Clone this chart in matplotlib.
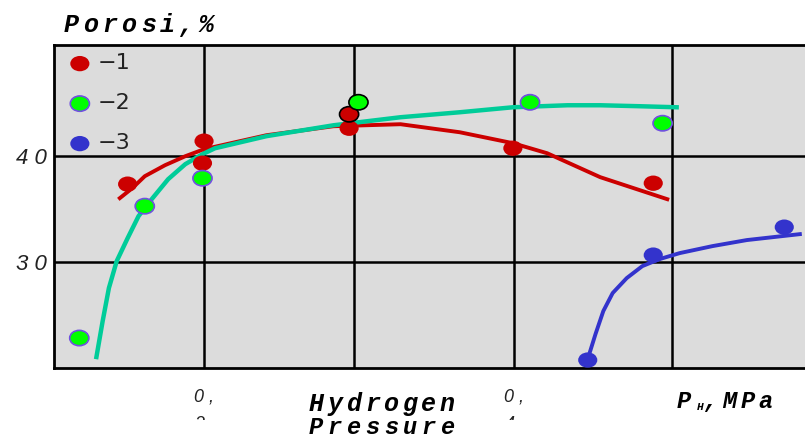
import matplotlib
matplotlib.use("Agg")
import matplotlib.pyplot as plt
from matplotlib.path import Path
from matplotlib.transforms import Affine2D, Bbox

W, H = 805, 441

# measured points (x: pressure, MPa; y: porosity, %)
red_x = [0.151, 0.200, 0.199, 0.293, 0.293, 0.398, 0.488]
red_y = [37.36, 41.42, 39.34, 42.64, 43.96, 40.75, 37.45]
red_edge = ["none", "none", "none", "none", "black", "none", "none"]

green_x = [0.120, 0.162, 0.199, 0.299, 0.409, 0.494]
green_y = [22.83, 35.28, 37.92, 45.09, 45.09, 43.11]
green_edge = ["#7050e0", "#7050e0", "#7050e0", "black", "#7050e0", "#7050e0"]

blue_x = [0.446, 0.488, 0.572]
blue_y = [20.75, 30.66, 33.30]

# fitted curves as drawn in the original
red_cx = [0.146, 0.154, 0.162, 0.175, 0.188, 0.200, 0.240, 0.283, 0.326,
          0.364, 0.398, 0.420, 0.454, 0.497]
red_cy = [36.04, 36.98, 38.11, 39.15, 40.00, 40.66, 41.98, 42.83, 43.02,
          42.26, 41.23, 40.28, 38.02, 35.94]

green_cx = [0.131, 0.135, 0.139, 0.144, 0.151, 0.158, 0.167, 0.177, 0.188,
            0.199, 0.207, 0.240, 0.283, 0.326, 0.364, 0.398, 0.433, 0.454,
            0.479, 0.503]
green_cy = [21.04, 24.43, 27.55, 30.09, 32.26, 34.34, 36.04, 37.83, 39.25,
            40.19, 40.75, 41.89, 42.92, 43.68, 44.15, 44.62, 44.81, 44.81,
            44.72, 44.62]

blue_cx = [0.447, 0.451, 0.456, 0.462, 0.471, 0.481, 0.492, 0.505, 0.526,
           0.548, 0.582]
blue_cy = [21.32, 23.21, 25.38, 27.08, 28.49, 29.62, 30.28, 30.85, 31.51,
           32.08, 32.64]

x_grid = [0.2, 0.296, 0.399, 0.5]
x_labels = ["0 ,", "", "0 ,", ""]
y_grid = [30, 40]
y_labels = ["3 0", "4 0"]

# elliptical marker
ell = Affine2D().scale(1.0, 0.8).transform_path(Path.unit_circle())

fig = plt.figure(figsize=(W / 100, H / 100), dpi=100)
ax = fig.add_axes([54 / W, 1 - 368 / H, 1 - 54 / W, (368 - 45) / H])
ax.set_facecolor("#dcdcdc")

ax.plot(red_cx, red_cy, color="#cc0000", lw=2.8)
ax.plot(green_cx, green_cy, color="#00cc99", lw=3.2)
ax.plot(blue_cx, blue_cy, color="#3333cc", lw=2.8)

ax.scatter(red_x, red_y, s=190, marker=ell, c="#cc0000", edgecolors=red_edge,
           linewidths=1.2, zorder=3, label="\u22121")
ax.scatter(green_x, green_y, s=190, marker=ell, c="#00ff00", edgecolors=green_edge,
           linewidths=1.2, zorder=3, label="\u22122")
ax.scatter(blue_x, blue_y, s=190, marker=ell, c="#3333cc", edgecolors="none",
           zorder=3, label="\u22123")

ax.set_xlim(0.1038, 0.5853)
ax.set_ylim(20.0, 50.5)
ax.set_xticks(x_grid)
ax.set_xticklabels(x_labels)
ax.set_yticks(y_grid)
ax.set_yticklabels(y_labels)
ax.tick_params(length=0, colors="#222222")
ax.tick_params(axis="y", labelsize=16, pad=5)
ax.tick_params(axis="x", labelsize=13, pad=15)
for lab in ax.get_xticklabels() + ax.get_yticklabels():
    lab.set_fontfamily("Liberation Sans")
    lab.set_fontstyle("italic")
ax.grid(color="black", lw=1.8)
ax.set_axisbelow(True)
for side in ["left", "top", "bottom"]:
    ax.spines[side].set_linewidth(2)
ax.spines["right"].set_visible(False)

leg = ax.legend(loc="upper left", bbox_to_anchor=(-0.007, 1.022), frameon=False,
                prop={"family": "DejaVu Sans", "size": 16},
                handletextpad=0.1, labelspacing=0.9, borderaxespad=0.3,
                scatterpoints=1, handlelength=1.4)
for t in leg.get_texts():
    t.set_color("#222222")

# second line of the wrapped "0,2" / "0,4" labels, almost hidden
for xp, ch in [(199, "2"), (510, "4")]:
    t = fig.text(xp / W, 1 - 416 / H, ch, ha="center", va="top", size=13,
                 family="Liberation Sans", style="italic", color="#222222")
    t.set_clip_box(Bbox([[0, H - 420], [W, H - 414]]))
    t.set_clip_on(True)


def spaced(x0, y, s, step, **kw):
    # place characters one by one to get the wide letter spacing
    for i, ch in enumerate(s):
        fig.text((x0 + i * step) / W, 1 - y / H, ch, ha="center", va="baseline", **kw)


bold_mono = dict(family="Liberation Mono", weight="bold", style="italic", size=18)
spaced(71, 32, "Porosi,%", 19.3, **bold_mono)
spaced(316, 411, "Hydrogen", 18.75, **bold_mono)
spaced(316, 434, "Pressure", 18.75, size=17,
       family="Liberation Mono", weight="bold", style="italic")

unit = dict(family="Liberation Mono", weight="bold", style="italic", size=17)
spaced(684, 408, "P", 19, **unit)
spaced(700, 410, "H", 10, family="Liberation Mono", weight="bold", style="italic", size=8)
spaced(710, 408, ",", 19, **unit)
spaced(729, 408, "MP", 19, **unit)
spaced(765, 408, "a", 19, **unit)

fig.savefig("out.png", dpi=100)
